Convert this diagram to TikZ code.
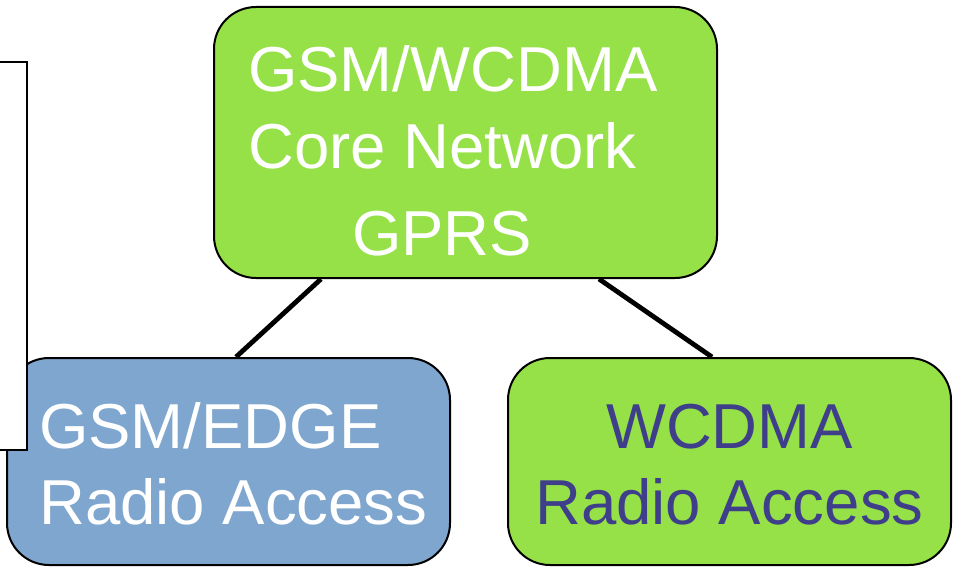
\documentclass[tikz,border=0pt]{standalone}
\usepackage{fontspec}
\setmainfont{Liberation Sans}
\usetikzlibrary{calc}
\definecolor{boxgreen}{RGB}{150,224,72}
\definecolor{boxblue}{RGB}{127,166,206}
\definecolor{txtpurple}{RGB}{62,62,138}
\tikzset{
  rbox/.style={draw=black, line width=2pt, rounded corners=42pt, inner sep=0pt},
  lbl/.style={anchor=base west, inner sep=0pt, font=\fontsize{63.5}{70}\selectfont},
  conn/.style={draw=black, line width=4.8pt}
}
\begin{document}
\begin{tikzpicture}[x=1pt,y=-1pt]
\useasboundingbox (0,0) rectangle (953,567);
% boxes
\node[rbox, fill=boxgreen, minimum width=503pt, minimum height=271pt] (core) at (465.5,142.5) {};
\node[rbox, fill=boxblue, minimum width=443pt, minimum height=207pt] (gsm) at (228.5,461.5) {};
\node[rbox, fill=boxgreen, minimum width=443pt, minimum height=207pt] (wcdma) at (729.5,461.5) {};
% left plain rectangle
\node[draw=black, line width=2pt, fill=white, minimum width=40pt, minimum height=388pt, inner sep=0pt] (side) at (7,256) {};
% connectors
\coordinate (c1) at ($(core.south west)+(108,0)$);
\coordinate (g1) at ($(gsm.north west)+(230,0)$);
\coordinate (c2) at ($(core.south west)+(386,0)$);
\coordinate (w1) at ($(wcdma.north west)+(205,0)$);
\draw[conn] (c1) -- (g1);
\draw[conn] (c2) -- (w1);
% texts
\node[lbl, text=white] (t1) at (248,92) {GSM/WCDMA};
\node[lbl, text=white] (t2) at (248,168) {Core Network};
\node[lbl, text=white] (t3) at (352,255) {GPRS};
\node[lbl, text=white] (t4) at (39,448) {GSM/EDGE};
\node[lbl, text=white] (t5) at (39,524) {Radio Access};
\node[lbl, text=txtpurple, anchor=base] (t6) at (729.5,448) {WCDMA};
\node[lbl, text=txtpurple, anchor=base] (t7) at (729.5,524) {Radio Access};
\end{tikzpicture}
\end{document}
